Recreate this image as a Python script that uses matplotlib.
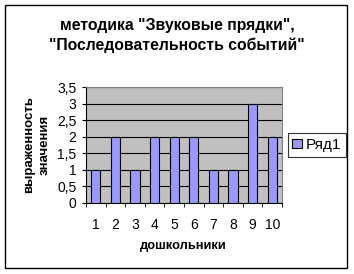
import matplotlib.pyplot as plt
from matplotlib.patches import Rectangle
from matplotlib import font_manager

plt.rcParams['font.family'] = ['Liberation Sans', 'DejaVu Sans']
names = {f.name for f in font_manager.fontManager.ttflist}
narrow = 'Liberation Sans Narrow' if 'Liberation Sans Narrow' in names else 'Liberation Sans'

children = [1, 2, 3, 4, 5, 6, 7, 8, 9, 10]
values = [1, 2, 1, 2, 2, 2, 1, 1, 3, 2]
yticks = [0, 0.5, 1, 1.5, 2, 2.5, 3, 3.5]
ytick_labels = ["0", "0,5", "1", "1,5", "2", "2,5", "3", "3,5"]

fig = plt.figure(figsize=(3.54, 2.74), dpi=100)
fig.patches.append(Rectangle((5 / 354, 1 - 268 / 274), 342 / 354, 263 / 274,
                             transform=fig.transFigure, fill=False,
                             edgecolor="black", linewidth=1))

ax = fig.add_axes([86 / 354, 1 - 203 / 274, 196 / 354, 116 / 274])
ax.set_facecolor("#C0C0C0")
ax.bar(children, values, width=0.47, color="#9999FF", edgecolor="black",
       linewidth=0.8, label="Ряд1", zorder=3)
ax.set_xlim(0.5, 10.5)
ax.set_ylim(0, 3.5)
ax.set_yticks(yticks)
ax.set_yticklabels(ytick_labels, family=narrow, fontsize=10)
ax.yaxis.grid(True, color="black", linewidth=0.8, zorder=1)
ax.set_axisbelow(True)

ax.set_xticks(children)
ax.set_xticklabels([str(c) for c in children], family=narrow, fontsize=10)
ax.set_xticks([c + 0.5 for c in [0] + children], minor=True)
ax.tick_params(axis="x", which="major", length=0, pad=11)
ax.tick_params(axis="x", which="minor", length=3, direction="out")
ax.tick_params(axis="y", length=3, direction="out", pad=4)

for side in ["top", "right"]:
    ax.spines[side].set_color("#808080")
for side in ["left", "bottom"]:
    ax.spines[side].set_color("black")

fig.text(0.5, 1 - 25 / 274, 'методика "Звуковые прядки",',
         ha="center", va="center", fontsize=11.3, fontweight="bold")
fig.text(0.5, 1 - 45 / 274, '"Последовательность событий"',
         ha="center", va="center", fontsize=11.3, fontweight="bold")
fig.text(37 / 354, 1 - 145 / 274, "выраженность\nзначения", rotation=90,
         ha="center", va="center", fontsize=9.5, fontweight="bold",
         linespacing=1.35)
fig.text(183 / 354, 1 - 246 / 274, "дошкольники", ha="center", va="center",
         fontsize=9.3, fontweight="bold")

leg = fig.legend(loc="center", bbox_to_anchor=(317 / 354, 1 - 145 / 274),
                 prop={"family": narrow, "size": 11}, frameon=True,
                 fancybox=False, handlelength=0.6, handleheight=0.6,
                 handletextpad=0.3, borderpad=0.3, borderaxespad=0)
leg.get_frame().set_edgecolor("black")
leg.get_frame().set_linewidth(0.8)

fig.savefig("out.png", dpi=100)
